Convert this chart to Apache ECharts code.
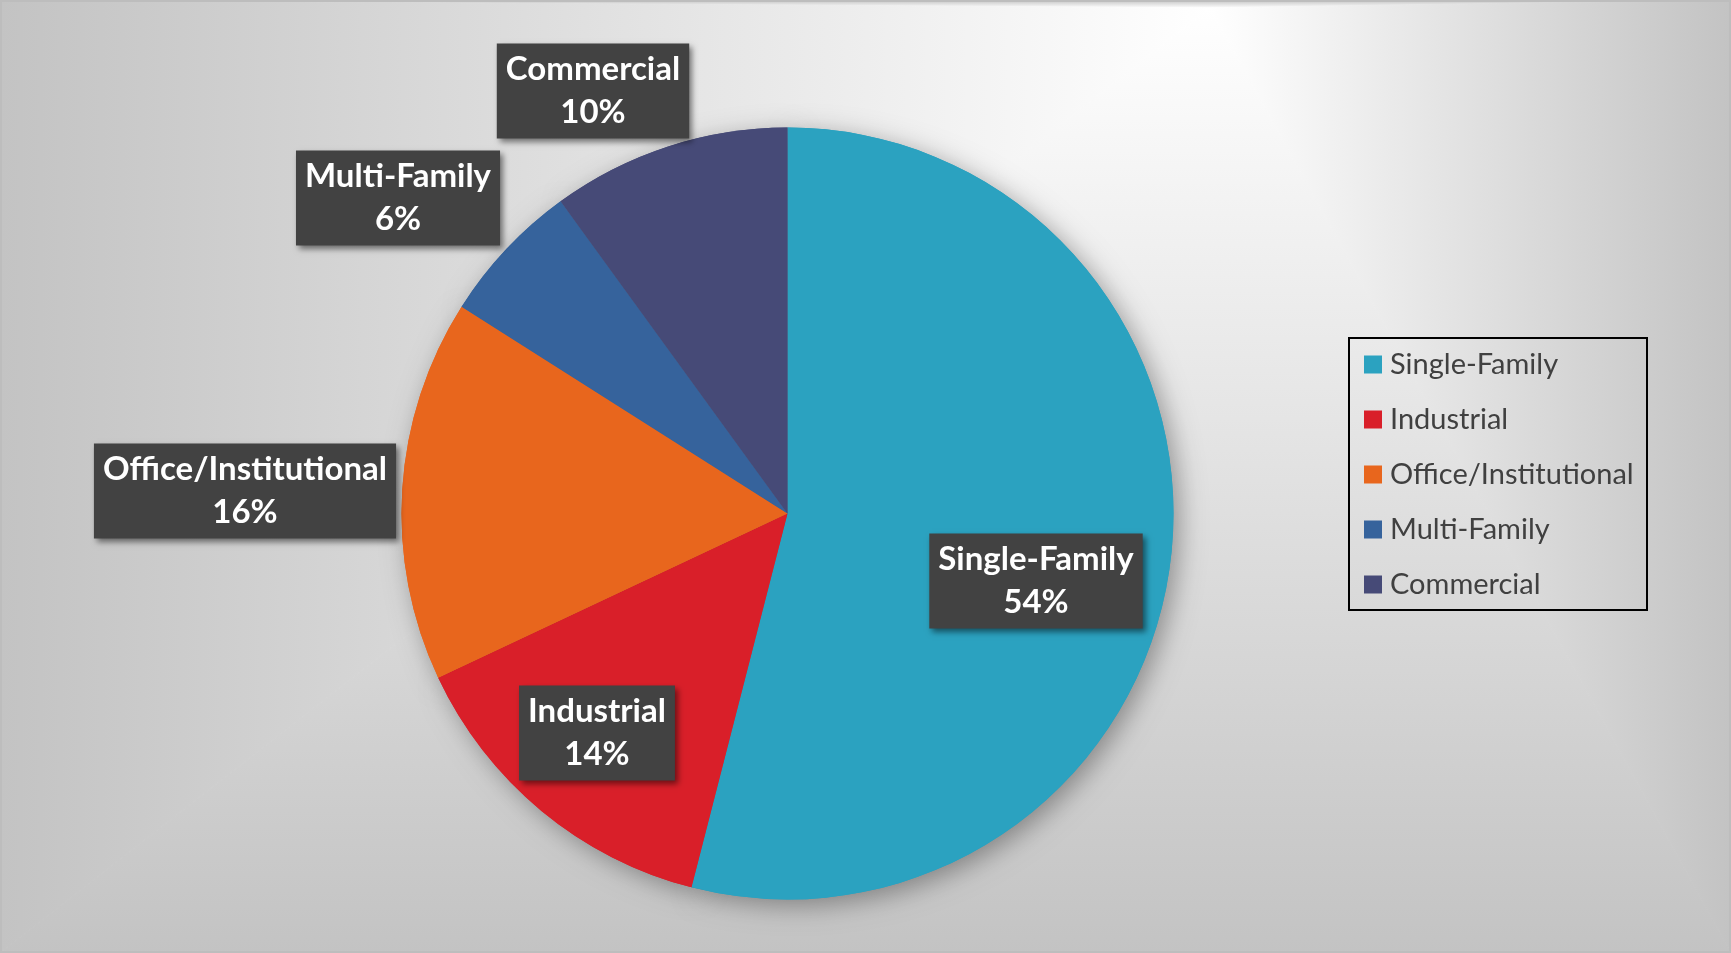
<!DOCTYPE html>
<html>
<head>
<meta charset="utf-8">
<script src="https://cdn.jsdelivr.net/npm/echarts@6/dist/echarts.min.js"></script>
<style>
  html, body { margin: 0; padding: 0; background: #fff; }
  #main { width: 1731px; height: 953px; }
</style>
</head>
<body>
<div id="main"></div>
<script>
// chart data
const categories = ['Single-Family', 'Industrial', 'Office/Institutional', 'Multi-Family', 'Commercial']
const shares = [54, 14, 16, 6, 10]
const sliceColors = ['#2ba2c0', '#d91f29', '#e8661d', '#36639c', '#464a77']

// where the dark label boxes sit (box centres, px)
const labelSpots = [[1036, 581], [597, 733], [245, 491], [398, 198], [593, 91]]

const W = 1731, H = 953
const focus = [1210, 8]
const light = '#ffffff', dark = '#c3c3c3'

const chart = echarts.init(document.getElementById('main'))

// rectangular "path" gradient like the office background, built from 4 triangles
const grad = (x1, y1, x2, y2) => new echarts.graphic.LinearGradient(x1, y1, x2, y2, [
    {offset: 0, color: light}, {offset: 1, color: dark}], true)
const tri = (pts, fill) => ({
    type: 'polygon', silent: true, z: -10,
    shape: {points: pts},
    style: {fill: fill, stroke: fill, lineWidth: 1}
})
const bgParts = [
    tri([focus, [0, 0], [W, 0]], grad(0, focus[1], 0, 0)),
    tri([focus, [W, 0], [W, H]], grad(focus[0], 0, W, 0)),
    tri([focus, [W, H], [0, H]], grad(0, focus[1], 0, H)),
    tri([focus, [0, H], [0, 0]], grad(focus[0], 0, 0, 0))
]

const pieData = categories.map((name, i) => ({
    name: name,
    value: shares[i],
    itemStyle: {color: sliceColors[i]}
}))

const options = {
    animation: false,
    graphic: bgParts.concat([
        {   // legend frame
            type: 'rect', silent: true, z: 5,
            shape: {x: 1349, y: 338, width: 298, height: 272},
            style: {fill: null, stroke: '#000', lineWidth: 2}
        },
        {   // outer border of the picture
            type: 'rect', silent: true, z: 5,
            shape: {x: 1, y: 1, width: W - 2, height: H - 2},
            style: {fill: null, stroke: '#bdbdbd', lineWidth: 2}
        }
    ]),
    legend: {
        orient: 'vertical',
        left: 1364,
        top: 350,
        padding: 0,
        icon: 'rect',
        itemWidth: 18,
        itemHeight: 18,
        itemGap: 26,
        data: categories,
        textStyle: {
            fontFamily: 'Lato',
            fontSize: 29,
            color: '#404040',
            padding: [0, 0, 0, 3]
        }
    },
    series: [
        {   // shadow under the pie
            type: 'pie',
            silent: true,
            center: [787.5, 513.5],
            radius: 386,
            startAngle: 90,
            z: 1,
            label: {show: false},
            labelLine: {show: false},
            itemStyle: {
                shadowBlur: 26,
                shadowOffsetX: 6,
                shadowOffsetY: 6,
                shadowColor: 'rgba(0,0,0,0.35)'
            },
            data: pieData
        },
        {
            type: 'pie',
            center: [787.5, 513.5],
            radius: 386,
            startAngle: 90,
            z: 2,
            avoidLabelOverlap: false,
            labelLine: {show: false},
            label: {
                show: true,
                position: 'inside',
                formatter: '{b}\n{c}%',
                fontFamily: 'Lato',
                fontWeight: 'bold',
                fontSize: 33,
                lineHeight: 43,
                color: '#ffffff',
                align: 'center',
                backgroundColor: '#424242',
                padding: [7, 9, 2, 9],
                shadowColor: 'rgba(0,0,0,0.5)',
                shadowBlur: 6,
                shadowOffsetX: 3,
                shadowOffsetY: 3
            },
            labelLayout: function (params) {
                const p = labelSpots[params.dataIndex]
                return {x: p[0], y: p[1], align: 'center', verticalAlign: 'middle'}
            },
            data: pieData
        }
    ]
}
chart.setOption(options)
</script>
</body>
</html>
